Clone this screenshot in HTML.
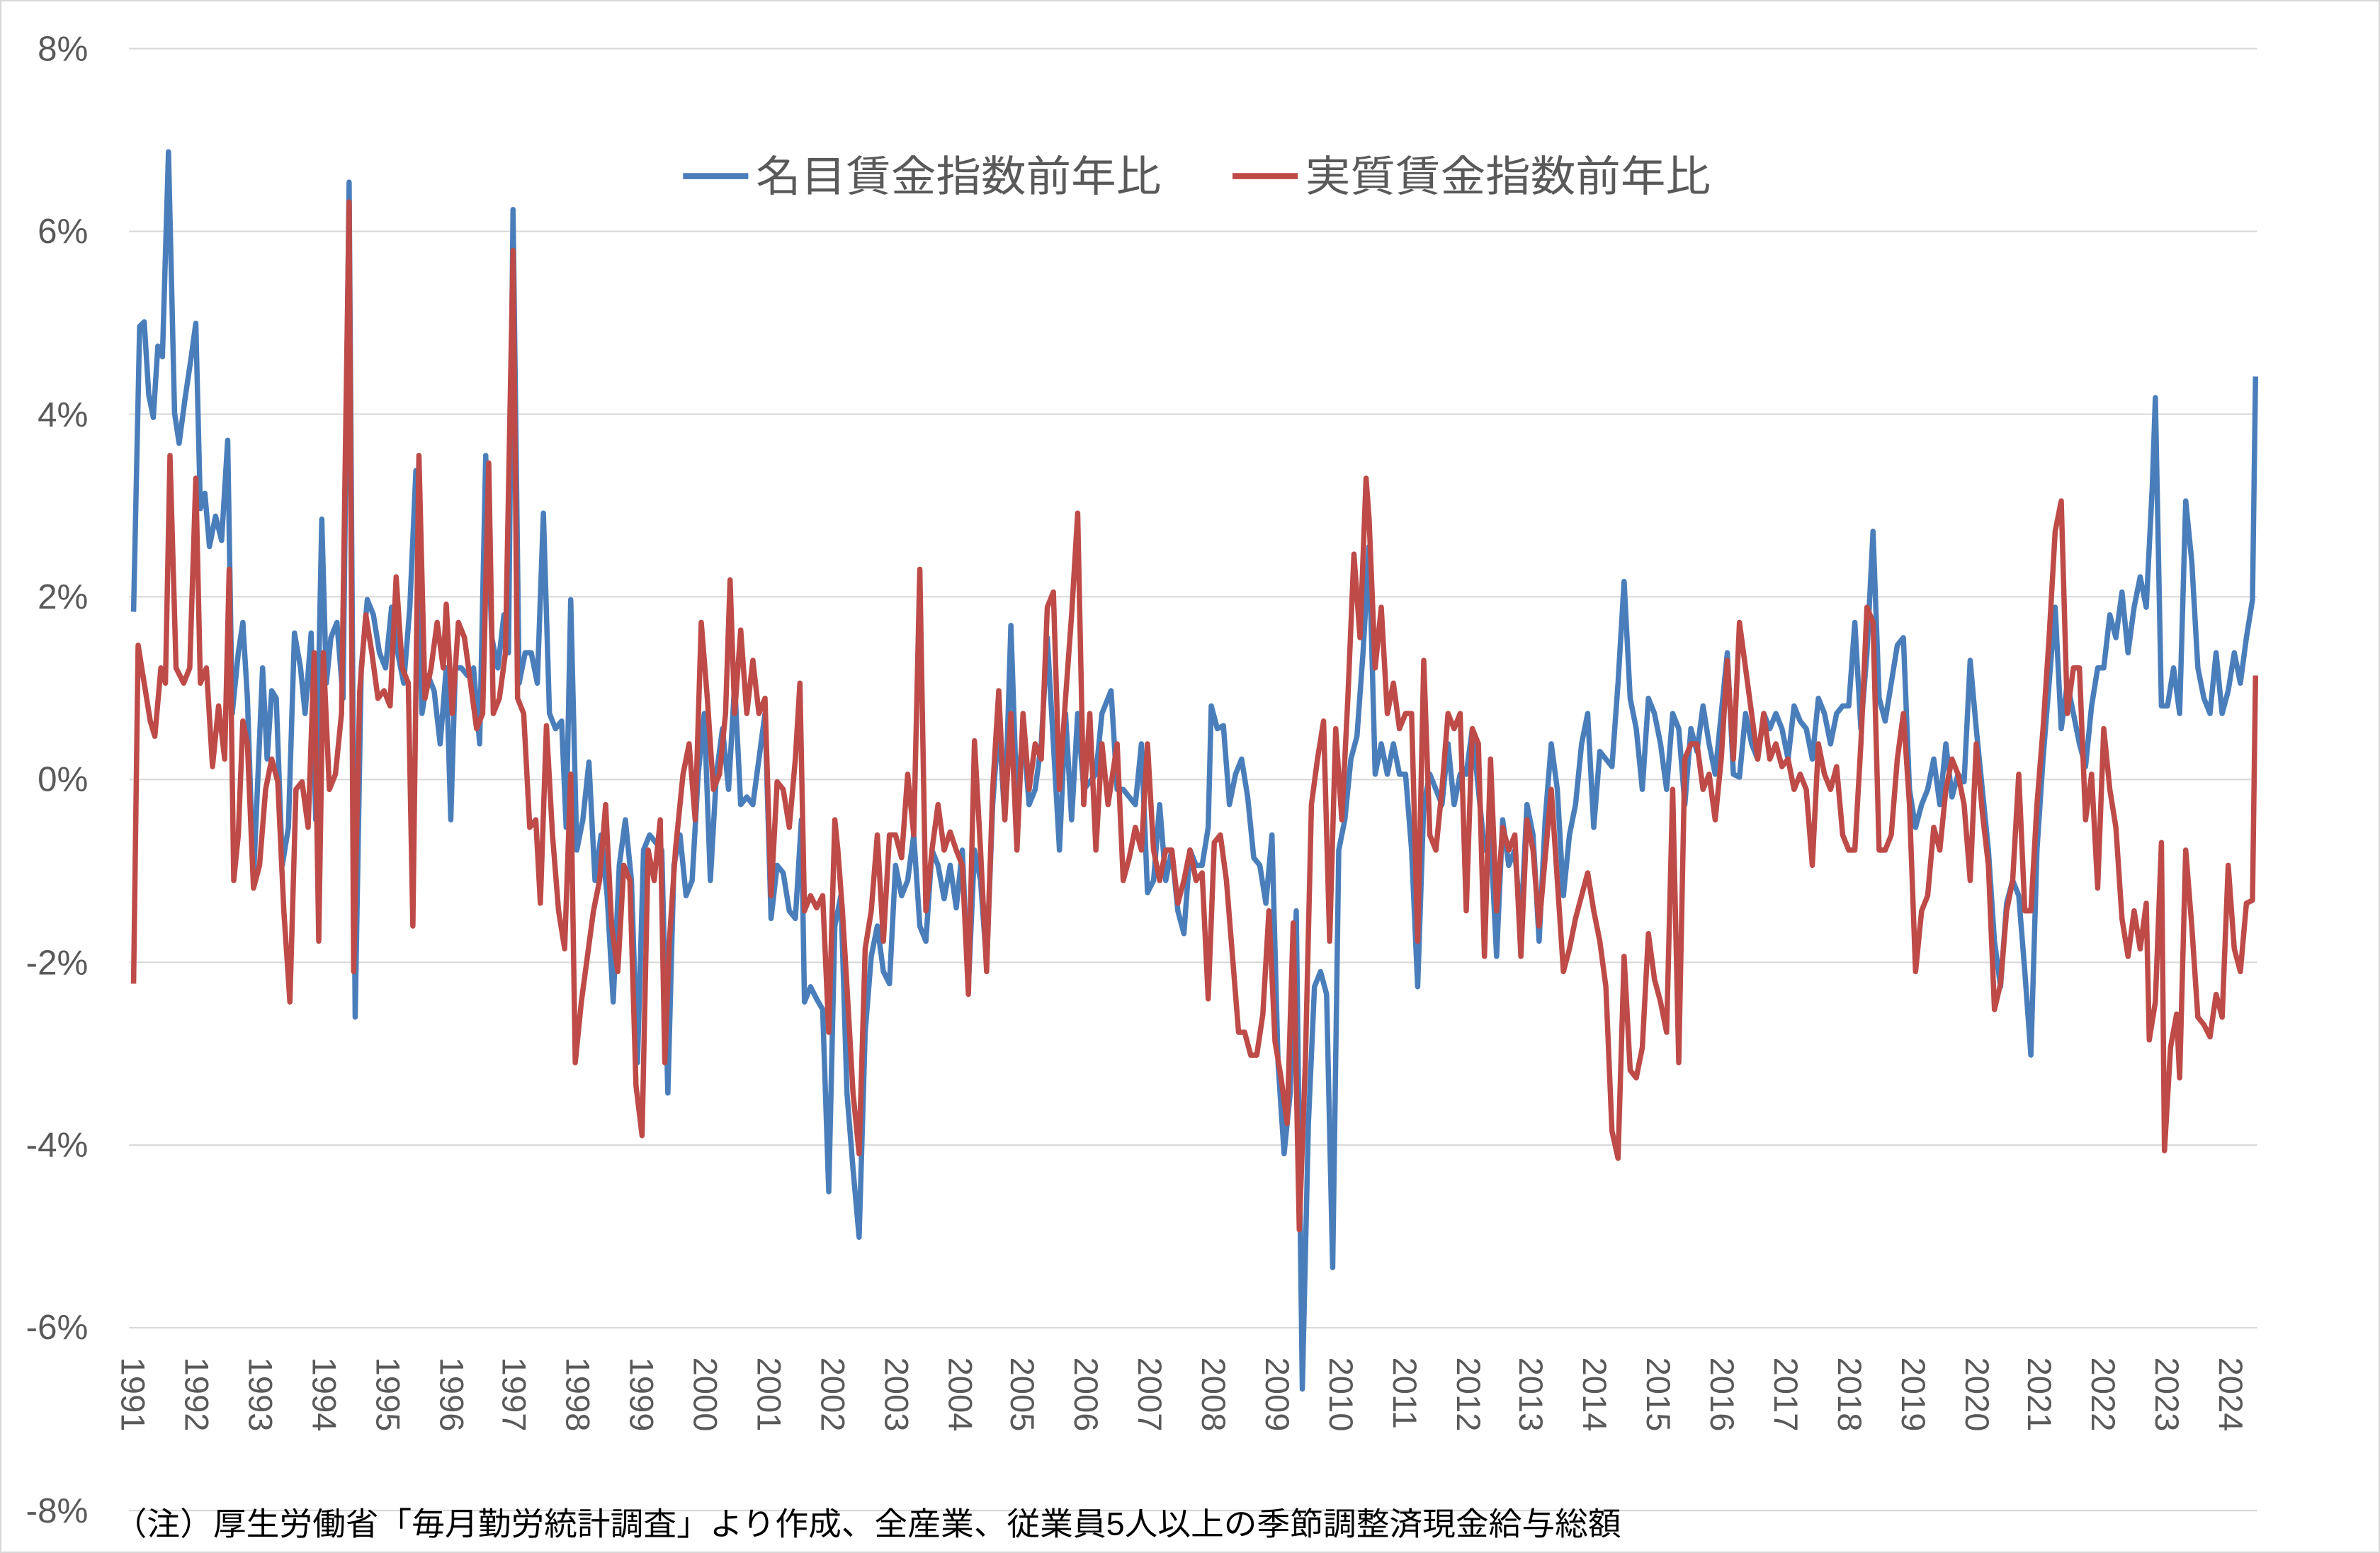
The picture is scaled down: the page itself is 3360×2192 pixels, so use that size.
<!DOCTYPE html>
<html><head><meta charset="utf-8"><style>
html,body{margin:0;padding:0;background:#fff;}
svg{display:block;}
text{font-family:"Liberation Sans","Noto Sans CJK JP",sans-serif;}
</style></head><body>
<svg width="3360" height="2192" viewBox="0 0 1568 1023" preserveAspectRatio="none" xmlns="http://www.w3.org/2000/svg">
<rect x="0.5" y="0.5" width="1567" height="1022" fill="#fff" stroke="#d9d9d9" stroke-width="1"/>
<g stroke="#d9d9d9" stroke-width="1">
<line x1="85" y1="32" x2="1487" y2="32"/>
<line x1="85" y1="152.4" x2="1487" y2="152.4"/>
<line x1="85" y1="272.8" x2="1487" y2="272.8"/>
<line x1="85" y1="393.1" x2="1487" y2="393.1"/>
<line x1="85" y1="513.5" x2="1487" y2="513.5"/>
<line x1="85" y1="633.9" x2="1487" y2="633.9"/>
<line x1="85" y1="754.3" x2="1487" y2="754.3"/>
<line x1="85" y1="874.6" x2="1487" y2="874.6"/>
<line x1="85" y1="995" x2="1487" y2="995"/>
</g>
<g fill="#595959" font-size="23" text-anchor="end">
<text x="58" y="40">8%</text>
<text x="58" y="160">6%</text>
<text x="58" y="281">4%</text>
<text x="58" y="401">2%</text>
<text x="58" y="521">0%</text>
<text x="58" y="642">-2%</text>
<text x="58" y="762">-4%</text>
<text x="58" y="882">-6%</text>
<text x="58" y="1003">-8%</text>
</g>
<g font-size="28" fill="#595959">
<line x1="450" y1="116" x2="493" y2="116" stroke="#4a7ebb" stroke-width="4"/>
<text x="498" y="126" textLength="267" lengthAdjust="spacingAndGlyphs">名目賃金指数前年比</text>
<line x1="812" y1="116" x2="855" y2="116" stroke="#be4b48" stroke-width="4"/>
<text x="860" y="126" textLength="267" lengthAdjust="spacingAndGlyphs">実質賃金指数前年比</text>
</g>
<text x="75" y="1011" font-size="21" fill="#000" textLength="993" lengthAdjust="spacingAndGlyphs">（注）厚生労働省「毎月勤労統計調査」より作成、全産業、従業員5人以上の季節調整済現金給与総額</text>
<polyline fill="none" stroke="#4a7ebb" stroke-width="3.5" stroke-linejoin="round" points="88,403 92,215 95,212 98,260 101,275 104,228 107,235 111,100 115,272 118,292 122,262 126,235 129,213 132,335 135,325 138,360 142,340 146,356 150,290 153,470 157,430 160,410 163,460 167,580 170,510 173,440 176,500 179,455 182,460 186,570 190,545 194,417 198,440 201,470 205,417 208,540 212,342 215,450 218,420 222,410 226,460 230,120 234,670 238,440 242,395 246,405 250,430 254,440 258,400 262,430 266,450 270,400 274,310 278,470 282,445 286,455 290,490 294,440 297,540 300,440 304,440 308,445 312,440 316,490 320,300 324,420 328,440 332,405 335,430 338,138 342,450 346,430 350,430 354,450 358,338 362,470 366,480 370,475 373,545 376,395 380,560 384,540 388,502 392,580 396,550 400,590 404,660 408,570 412,540 416,580 420,700 424,560 428,550 432,555 436,560 440,720 444,570 448,550 452,590 456,580 460,510 464,470 468,580 472,510 476,480 480,520 484,450 488,530 492,525 496,530 500,500 504,470 508,605 512,570 516,575 520,600 524,605 528,540 530,660 534,650 538,658 542,665 546,785 550,610 554,590 558,720 562,770 566,815 570,680 574,630 578,610 582,640 586,648 590,570 594,590 598,580 602,550 606,610 610,620 614,560 618,570 622,592 626,570 630,598 634,560 638,650 642,560 646,580 650,635 654,530 658,475 662,540 666,412 670,530 674,480 678,530 682,520 686,490 690,420 694,490 698,560 702,470 706,540 710,470 714,520 718,515 722,510 726,470 732,455 736,520 740,520 744,525 748,530 752,490 756,588 760,580 764,530 768,580 772,560 776,600 780,615 784,560 788,570 792,570 796,545 798,465 802,480 806,478 810,530 814,510 818,500 822,525 826,565 830,570 834,595 838,550 842,700 846,760 850,720 854,600 858,915 862,740 866,650 870,640 874,655 878,835 882,560 886,540 890,500 894,485 898,430 902,360 906,510 910,490 914,510 918,490 922,510 926,510 930,560 934,650 938,530 942,510 946,520 950,530 954,490 958,530 962,510 966,510 970,480 974,520 978,560 982,550 986,630 990,540 994,570 998,560 1002,610 1006,530 1010,550 1014,620 1018,540 1022,490 1026,520 1030,590 1034,550 1038,530 1042,490 1046,470 1050,545 1054,495 1058,500 1062,505 1066,450 1070,383 1074,460 1078,480 1082,520 1086,460 1090,470 1094,490 1098,520 1102,470 1106,480 1110,530 1114,480 1118,495 1122,465 1126,490 1130,510 1134,470 1138,430 1142,510 1146,512 1150,470 1154,490 1158,500 1162,470 1166,480 1170,470 1174,480 1178,500 1182,465 1186,475 1190,480 1194,500 1198,460 1202,470 1206,490 1210,470 1214,465 1218,465 1222,410 1226,480 1230,430 1234,350 1238,460 1242,475 1246,450 1250,425 1254,420 1258,520 1262,545 1266,530 1270,520 1274,500 1278,530 1282,490 1286,525 1290,510 1294,515 1298,435 1302,480 1306,520 1310,560 1314,620 1318,650 1322,595 1326,580 1330,590 1334,640 1338,695 1342,560 1346,500 1350,450 1354,400 1358,480 1362,450 1366,470 1370,490 1374,505 1378,465 1382,440 1386,440 1390,405 1394,420 1398,390 1402,430 1406,400 1410,380 1414,400 1418,320 1420,262 1424,465 1428,465 1432,440 1436,470 1440,330 1444,370 1448,440 1452,460 1456,470 1460,430 1464,470 1468,455 1472,430 1476,450 1480,420 1484,395 1486,248"/>
<polyline fill="none" stroke="#be4b48" stroke-width="3.5" stroke-linejoin="round" points="88,648 91,425 95,450 99,475 102,485 106,440 109,450 112,300 116,440 121,450 125,440 129,315 132,450 136,440 140,505 144,465 148,500 151,375 154,580 157,550 160,475 163,490 167,585 171,570 175,520 179,500 183,515 187,600 191,660 195,520 199,515 203,545 207,430 210,620 213,430 217,520 221,510 225,470 230,133 233,640 237,455 241,405 245,430 249,460 253,455 257,465 261,380 265,440 269,450 272,610 276,300 280,460 284,440 288,410 292,440 294,398 298,470 302,410 306,420 310,450 314,480 318,470 322,305 325,470 329,460 333,430 338,165 341,460 345,470 349,545 353,540 356,595 360,478 364,550 368,600 372,625 376,510 379,700 383,660 387,630 391,600 395,580 399,530 403,610 407,640 411,570 415,580 419,715 423,748 427,560 431,580 435,540 438,700 441,620 445,560 450,510 454,490 458,540 462,410 466,460 470,520 474,510 478,470 481,382 484,470 488,415 492,470 496,435 500,470 504,460 508,590 512,515 516,520 520,545 524,500 527,450 530,600 534,590 538,598 542,590 546,680 550,540 552,560 555,600 558,650 562,720 566,760 570,625 574,600 578,550 582,620 586,550 590,550 594,565 598,510 602,550 606,375 610,600 614,560 618,530 622,560 626,548 630,560 634,570 638,655 642,488 646,560 650,640 654,520 658,455 662,540 666,470 670,560 674,470 678,520 682,490 686,500 690,400 694,390 698,520 702,460 706,405 710,338 714,530 718,470 722,560 726,490 730,530 736,490 740,580 744,565 748,545 752,560 756,490 760,560 764,580 768,560 772,560 776,595 780,580 784,560 788,580 792,575 796,658 800,555 804,550 808,580 812,630 816,680 820,680 824,695 828,695 832,668 836,600 840,686 844,710 848,740 852,608 856,810 860,700 864,530 868,500 872,475 876,620 880,480 884,540 888,460 892,365 896,420 900,315 902,342 906,440 910,400 914,470 918,450 922,480 926,470 930,470 934,620 938,435 942,550 946,560 950,520 954,470 958,480 962,470 966,600 970,480 974,490 978,630 982,500 986,600 990,545 994,560 998,550 1002,630 1006,540 1010,560 1014,610 1018,565 1022,520 1026,580 1030,640 1034,625 1038,605 1042,590 1046,575 1050,600 1054,620 1058,650 1062,745 1066,763 1070,630 1074,705 1078,710 1082,690 1086,615 1090,645 1094,660 1098,680 1102,520 1106,700 1110,500 1114,490 1118,490 1122,520 1126,510 1130,540 1134,500 1138,435 1142,500 1146,410 1150,440 1154,470 1158,500 1162,470 1166,500 1170,490 1174,505 1178,500 1182,520 1186,510 1190,520 1194,570 1198,490 1202,510 1206,520 1210,505 1214,550 1218,560 1222,560 1226,490 1230,400 1234,410 1238,560 1242,560 1246,550 1250,500 1254,470 1258,530 1262,640 1266,600 1270,590 1274,545 1278,560 1282,520 1286,500 1290,510 1294,530 1298,580 1302,490 1306,535 1310,570 1314,665 1318,648 1322,600 1326,580 1330,510 1334,600 1338,600 1342,530 1346,480 1350,420 1354,350 1358,330 1362,470 1366,440 1370,440 1374,540 1378,510 1382,585 1386,480 1390,520 1394,545 1398,605 1402,630 1406,600 1410,625 1414,595 1416,685 1420,660 1424,555 1426,758 1430,690 1434,668 1436,710 1440,560 1444,610 1448,670 1452,675 1456,683 1460,655 1464,670 1468,570 1472,625 1476,640 1480,595 1484,593 1486,445"/>
<g fill="#595959" font-size="22">
<text transform="translate(80,894) rotate(90)">1991</text>
<text transform="translate(122,894) rotate(90)">1992</text>
<text transform="translate(164,894) rotate(90)">1993</text>
<text transform="translate(206,894) rotate(90)">1994</text>
<text transform="translate(248,894) rotate(90)">1995</text>
<text transform="translate(290,894) rotate(90)">1996</text>
<text transform="translate(331,894) rotate(90)">1997</text>
<text transform="translate(373,894) rotate(90)">1998</text>
<text transform="translate(415,894) rotate(90)">1999</text>
<text transform="translate(457,894) rotate(90)">2000</text>
<text transform="translate(499,894) rotate(90)">2001</text>
<text transform="translate(541,894) rotate(90)">2002</text>
<text transform="translate(583,894) rotate(90)">2003</text>
<text transform="translate(625,894) rotate(90)">2004</text>
<text transform="translate(666,894) rotate(90)">2005</text>
<text transform="translate(708,894) rotate(90)">2006</text>
<text transform="translate(750,894) rotate(90)">2007</text>
<text transform="translate(792,894) rotate(90)">2008</text>
<text transform="translate(834,894) rotate(90)">2009</text>
<text transform="translate(876,894) rotate(90)">2010</text>
<text transform="translate(918,894) rotate(90)">2011</text>
<text transform="translate(960,894) rotate(90)">2012</text>
<text transform="translate(1001,894) rotate(90)">2013</text>
<text transform="translate(1043,894) rotate(90)">2014</text>
<text transform="translate(1085,894) rotate(90)">2015</text>
<text transform="translate(1127,894) rotate(90)">2016</text>
<text transform="translate(1169,894) rotate(90)">2017</text>
<text transform="translate(1211,894) rotate(90)">2018</text>
<text transform="translate(1253,894) rotate(90)">2019</text>
<text transform="translate(1295,894) rotate(90)">2020</text>
<text transform="translate(1336,894) rotate(90)">2021</text>
<text transform="translate(1378,894) rotate(90)">2022</text>
<text transform="translate(1420,894) rotate(90)">2023</text>
<text transform="translate(1462,894) rotate(90)">2024</text>
</g>
</svg>
</body></html>
